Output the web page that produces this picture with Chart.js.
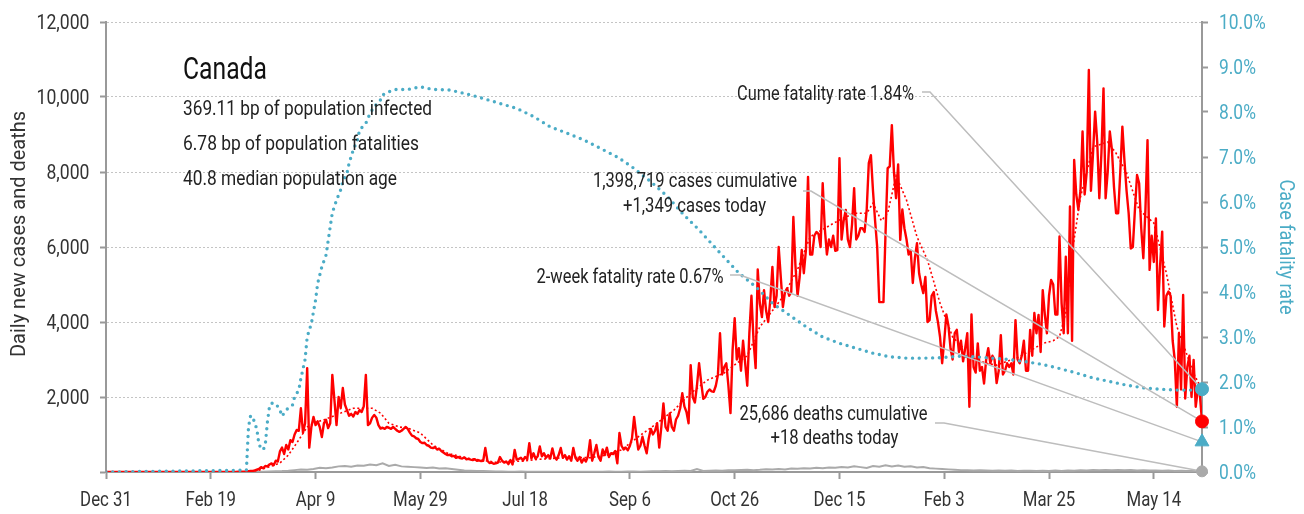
<!DOCTYPE html>
<html><head><meta charset="utf-8">
<script src="https://cdn.jsdelivr.net/npm/chart.js@4.4.1/dist/chart.umd.min.js"></script>
<style>html,body{margin:0;padding:0;background:#fff;overflow:hidden}canvas{display:block}</style>
</head><body>
<canvas id="c" width="1304" height="514"></canvas>
<script>
// ---------------- DATA ----------------
const country = "Canada";
const summaryLines = ["369.11 bp of population infected", "6.78 bp of population fatalities", "40.8 median population age"];
const xTickLabels = ["Dec 31","Feb 19","Apr 9","May 29","Jul 18","Sep 6","Oct 26","Dec 15","Feb 3","Mar 25","May 14"];
const xTickStep = 50; // days between labelled ticks
const leftTickLabels = ["", "2,000", "4,000", "6,000", "8,000", "10,000", "12,000"];
const rightTickLabels = ["0.0%","1.0%","2.0%","3.0%","4.0%","5.0%","6.0%","7.0%","8.0%","9.0%","10.0%"];
const leftTitle = "Daily new cases and deaths";
const rightTitle = "Case fatality rate";

// daily new cases, day 0 = Dec 31 2019
const dailyCases = [
0,0,0,0,0,0,0,0,0,0,
0,0,0,0,0,0,0,0,0,0,
0,0,0,0,0,1,0,1,0,0,
1,0,0,0,0,0,1,0,0,0,
0,0,0,0,0,0,0,0,0,0,
0,1,2,1,0,1,1,2,2,1,
0,2,3,5,5,8,10,15,20,25,
30,40,60,80,130,100,160,150,200,230,
180,300,280,550,650,480,720,600,850,800,
1000,1120,1100,1700,1050,1300,2770,650,1200,1470,
1250,1350,1200,930,1300,1390,1170,1300,2590,1920,
1250,2000,1700,2240,1800,1650,1500,1550,1480,1600,
1550,1650,1600,1750,2590,1250,1300,1450,1520,1450,
1250,1160,1180,1150,1200,1180,1150,1200,1150,1100,
1070,1100,1150,1200,1150,1050,970,950,900,880,
800,770,780,720,700,650,640,660,600,620,
560,520,480,450,460,420,430,380,400,370,
360,390,340,350,330,320,340,300,310,290,
300,640,300,240,250,220,230,250,400,300,
250,280,210,320,200,590,330,350,380,310,
400,340,770,360,500,350,420,680,420,500,
380,450,360,630,400,330,450,640,380,450,
330,420,300,640,380,300,400,250,350,280,
420,850,300,500,720,400,300,600,450,650,
400,500,480,560,230,1040,700,600,650,580,
700,900,1470,1000,600,700,940,700,500,900,
1150,1000,1100,1300,650,1200,1830,1200,1100,1560,
1200,1100,1400,1500,1700,2100,1750,1600,1300,2850,
2000,1850,2300,2900,2400,1950,2000,2140,2200,2150,
2140,2300,2590,3700,2600,2800,2900,2300,1570,3250,
4100,3000,3300,2700,3500,2900,2300,3700,4700,3500,
2770,5400,4500,4130,4850,4300,4000,4600,5470,4400,
4700,6000,5200,4400,4800,4900,4700,4800,6800,5500,
4700,5200,5920,5300,5920,7870,5800,5800,6300,6400,
6350,6000,7700,6500,5800,6200,6000,6300,5900,5920,
8370,6200,6700,6990,6200,6000,6600,7570,6200,6300,
6500,6500,6400,7000,8240,8450,7500,6700,6000,4530,
4530,4530,6400,8100,8150,9250,8000,7300,8200,6190,
7000,6500,6200,5800,5900,5040,5700,6100,5300,5000,
4770,5200,4000,4050,4700,4800,4300,4000,3600,2900,
3500,4200,3900,3300,3000,3700,3790,3200,3500,2950,
3300,3700,1740,4200,2800,2650,3430,2700,2800,2360,
3000,3300,2900,3100,3000,2370,2700,3650,2600,2700,
2900,2800,2900,2600,4050,3000,2900,3100,3500,2700,
2700,3790,3100,4240,3700,4190,3200,4850,4200,3700,
4700,5120,5000,4200,4200,6280,4500,3700,5740,3700,
7080,3500,8320,7400,7000,7500,9080,7400,8000,10720,
7500,8500,9610,8800,7300,8500,10230,7300,8000,9080,
8600,7600,6900,6900,8000,9210,8300,7500,6900,5960,
6000,7000,7920,7700,6500,5700,7000,8850,5390,6300,
5600,6760,4320,5500,6410,3880,4700,4810,4700,3500,
2990,1740,3700,2200,4720,1960,2800,3100,2000,2990,
1740,2200,2050,1349
];

// 7-day average of new cases: [day, value]
const avgCases = [
[0,0],[66,5],[73,50],[78,140],[83,240],[87,450],[91,770],[96,1200],[100,1330],[104,1390],
[108,1480],[112,1570],[118,1700],[123,1700],[127,1700],[131,1570],[135,1300],[140,1200],[144,1170],[150,1040],
[156,720],[163,500],[172,370],[179,320],[186,260],[192,280],[199,290],[207,340],[215,370],[223,390],
[231,380],[239,450],[246,590],[254,940],[263,1300],[271,1650],[279,2100],[287,2450],[295,2640],[301,2900],
[306,3100],[312,3870],[318,4300],[323,4670],[330,5400],[336,6270],[343,6500],[350,6720],[357,6900],[363,6900],
[366,7170],[370,6700],[373,6900],[377,7900],[382,7250],[387,6270],[392,5650],[398,4500],[404,3600],[410,3250],
[415,3000],[420,2900],[425,2850],[430,2950],[435,3050],[440,3200],[447,3430],[452,3500],[455,3610],[458,4240],
[461,5840],[465,7330],[471,8670],[478,8800],[482,8500],[487,7970],[493,6990],[500,6640],[506,5300],[511,3880],
[519,2630],[523,2190]
];

// daily deaths: [day, value]
const dailyDeaths = [
[0,0],[69,0],[72,5],[75,10],[78,15],[81,20],[84,25],[87,35],[90,50],[93,65],[96,60],[99,80],
[102,110],[105,100],[108,120],[111,150],[114,160],[117,140],[120,170],[123,165],[126,200],[129,180],
[132,230],[135,160],[138,190],[141,150],[144,140],[147,130],[150,120],[153,110],[156,120],[159,95],
[162,100],[165,80],[168,60],[171,40],[174,35],[177,30],[180,25],[183,20],[186,15],[189,12],
[192,10],[195,8],[198,10],[201,6],[204,8],[207,7],[210,5],[213,6],[216,8],[219,5],
[222,7],[225,5],[228,6],[231,7],[234,6],[237,8],[240,10],[243,8],[246,9],[249,12],
[252,15],[255,10],[258,15],[261,18],[264,20],[267,25],[270,22],[273,28],[276,30],[279,25],
[282,80],[285,30],[288,35],[291,40],[294,35],[297,45],[300,50],[303,55],[306,60],[309,50],
[312,60],[315,75],[318,70],[321,80],[324,70],[327,90],[330,85],[333,100],[336,95],[339,110],
[342,100],[345,120],[348,115],[351,130],[354,120],[357,150],[360,130],[363,110],[366,160],[369,140],
[372,180],[375,150],[378,170],[381,140],[384,150],[387,120],[390,130],[393,100],[396,90],[399,80],
[402,70],[405,60],[408,50],[411,45],[414,40],[417,45],[420,40],[423,35],[426,38],[429,35],
[432,40],[435,30],[438,35],[441,32],[444,30],[447,35],[450,30],[453,38],[456,30],[459,40],
[462,35],[465,45],[468,40],[471,50],[474,45],[477,55],[480,48],[483,50],[486,45],[489,50],
[492,40],[495,45],[498,38],[501,40],[504,35],[507,38],[510,30],[513,32],[516,25],[519,28],[523,18]
];

// cumulative case fatality rate (%): [day, value]
const caseFatalityRate = [
[0,0],[67,0.04],[68,1.0],[69,1.25],[70,1.22],[72,0.95],[73,0.6],[75,0.49],[76,0.6],[77,1.1],
[78,1.45],[79,1.53],[81,1.52],[83,1.38],[84,1.24],[86,1.38],[89,1.49],[90,1.67],[92,1.82],[93,2.08],
[95,2.5],[96,3.0],[98,3.3],[100,3.82],[101,4.19],[103,4.56],[105,4.82],[107,5.45],[108,5.76],[110,6.04],
[112,6.27],[113,6.46],[115,6.64],[116,6.86],[118,7.16],[120,7.38],[121,7.6],[124,7.75],[126,7.97],[128,8.12],
[131,8.27],[132,8.38],[135,8.45],[138,8.5],[144,8.5],[150,8.56],[156,8.5],[164,8.49],[174,8.38],[180,8.3],
[188,8.19],[196,8.08],[204,7.9],[212,7.67],[220,7.53],[228,7.38],[236,7.19],[244,7.0],[251,6.78],[260,6.45],
[268,6.12],[275,5.75],[283,5.38],[291,4.97],[296,4.72],[302,4.42],[310,4.12],[318,3.75],[326,3.49],[334,3.23],
[342,3.0],[350,2.86],[358,2.75],[366,2.64],[374,2.56],[382,2.53],[390,2.53],[398,2.54],[407,2.57],[415,2.56],
[423,2.53],[431,2.5],[439,2.45],[447,2.39],[455,2.3],[463,2.2],[471,2.09],[479,2.01],[487,1.93],[495,1.87],
[503,1.84],[511,1.82],[519,1.82],[523,1.84]
];

// latest figures
const cumulativeCases = "1,398,719";
const latestCases = 1349;
const cumulativeDeaths = "25,686";
const latestDeaths = 18;
const cumeFatalityRate = 1.84;
const twoWeekFatalityRate = 0.67;

// ---------------- CHART ----------------
const FONT = 'Roboto, "DejaVu Sans", sans-serif';
const BLUE = '#4bacc6', RED = '#ff0000', GREY = '#aaaaaa', AXIS = '#999999', TXT = '#333333';
Chart.defaults.font.family = FONT;
Chart.defaults.color = TXT;

const lastDay = dailyCases.length - 1;
const pts = arr => arr.map(([d, v]) => ({x: d, y: v}));

// condensed text helper: horizontal squeeze either fixed (sx) or to a target width
function txt(ctx, s, x, y, o) {
  ctx.save();
  ctx.font = (o.size || 20) + 'px ' + FONT;
  ctx.fillStyle = o.color || '#222';
  ctx.textBaseline = 'alphabetic';
  ctx.textAlign = 'left';
  const w = ctx.measureText(s).width;
  const k = o.width ? o.width / w : (o.sx || 1);
  const dw = w * k;
  const align = o.align || 'left';
  if (o.rotate) {
    ctx.translate(x, y);
    ctx.rotate(o.rotate);
    ctx.scale(k, 1);
    ctx.fillText(s, -w / 2, (o.size || 20) * 0.36);
  } else {
    const left = align === 'left' ? x : align === 'right' ? x - dw : x - dw / 2;
    ctx.translate(left, y);
    ctx.scale(k, 1);
    ctx.fillText(s, 0, 0);
  }
  ctx.restore();
}

let leadersDone = false;
function drawLeaders(chart) {
  const {ctx, scales: {x, y, y2}} = chart;
  const ex = x.getPixelForValue(lastDay);
  const L = [
    [922, 92, 930, y2.getPixelForValue(cumeFatalityRate)],
    [803, 191, 811, y.getPixelForValue(latestCases)],
    [730, 275, 740, y2.getPixelForValue(twoWeekFatalityRate)],
    [935, 423, 944, y.getPixelForValue(latestDeaths)]
  ];
  ctx.save();
  ctx.strokeStyle = '#bdbdbd'; ctx.lineWidth = 1.5;
  for (const [x0, y0, x1, yt] of L) {
    ctx.beginPath(); ctx.moveTo(x0, y0); ctx.lineTo(x1, y0); ctx.lineTo(ex, yt); ctx.stroke();
  }
  ctx.restore();
}

const TICK_SX = 0.84, TICK_SIZE = 20;
const annotations = {
  id: 'annotations',
  beforeDraw() { leadersDone = false; },
  beforeDatasetDraw(chart, args) {
    if (!leadersDone && chart.data.datasets[args.index].isMarker) { drawLeaders(chart); leadersDone = true; }
  },
  afterDraw(chart) {
    const ctx = chart.ctx;
    const {x, y, y2} = chart.scales;
    // axis tick labels
    x.ticks.forEach(t => {
      const lab = xTickLabels[Math.round(t.value / xTickStep)];
      if (lab) txt(ctx, lab, x.getPixelForValue(t.value), 506, {size: TICK_SIZE, sx: TICK_SX, align: 'center', color: TXT});
    });
    y.ticks.forEach(t => {
      const lab = leftTickLabels[Math.round(t.value / 2000)];
      if (lab) txt(ctx, lab, 89.5, y.getPixelForValue(t.value) + 7, {size: TICK_SIZE, sx: 0.88, align: 'right', color: TXT});
    });
    y2.ticks.forEach(t => {
      const lab = rightTickLabels[Math.round(t.value)];
      if (lab) txt(ctx, lab, 1219, y2.getPixelForValue(t.value) + 7, {size: TICK_SIZE, sx: 0.87, align: 'left', color: BLUE});
    });
    // axis titles
    txt(ctx, leftTitle, 18, 234, {size: 20, width: 246, rotate: -Math.PI / 2, color: TXT});
    txt(ctx, rightTitle, 1287, 247, {size: 20, width: 135, rotate: Math.PI / 2, color: BLUE});
    // headline block
    txt(ctx, country, 183, 78.5, {size: 31, width: 84, color: '#111'});
    txt(ctx, summaryLines[0], 183, 115, {size: 21, width: 249});
    txt(ctx, summaryLines[1], 183, 150, {size: 21, width: 236});
    txt(ctx, summaryLines[2], 183, 185, {size: 21, width: 214});
    // callouts
    txt(ctx, 'Cume fatality rate ' + cumeFatalityRate.toFixed(2) + '%', 914, 99.5, {size: 20, width: 177, align: 'right'});
    txt(ctx, cumulativeCases + ' cases cumulative', 695, 186.5, {size: 20, width: 204, align: 'center'});
    txt(ctx, '+' + latestCases.toLocaleString('en-US') + ' cases today', 694.5, 211.5, {size: 20, width: 143, align: 'center'});
    txt(ctx, '2-week fatality rate ' + twoWeekFatalityRate.toFixed(2) + '%', 723.5, 283, {size: 20, width: 187, align: 'right'});
    txt(ctx, cumulativeDeaths + ' deaths cumulative', 833.5, 420, {size: 20, width: 188, align: 'center'});
    txt(ctx, '+' + latestDeaths + ' deaths today', 834.5, 444, {size: 20, width: 128, align: 'center'});
  }
};

new Chart(document.getElementById('c'), {
  type: 'line',
  data: {
    datasets: [
      {label: 'Cume CFR', isMarker: true, data: [{x: lastDay, y: cumeFatalityRate}], yAxisID: 'y2', showLine: false,
       pointStyle: 'circle', pointRadius: 6.5, backgroundColor: BLUE, borderColor: BLUE, clip: false, order: 0},
      {label: 'Cases today', isMarker: true, data: [{x: lastDay, y: latestCases}], yAxisID: 'y', showLine: false,
       pointStyle: 'circle', pointRadius: 6.5, backgroundColor: RED, borderColor: RED, clip: false, order: 0},
      {label: '2wk CFR', isMarker: true, data: [{x: lastDay, y: twoWeekFatalityRate}], yAxisID: 'y2', showLine: false,
       pointStyle: 'triangle', pointRadius: 8, backgroundColor: BLUE, borderColor: BLUE, clip: false, order: 0},
      {label: 'Deaths today', isMarker: true, data: [{x: lastDay, y: latestDeaths}], yAxisID: 'y', showLine: false,
       pointStyle: 'circle', pointRadius: 5.5, backgroundColor: GREY, borderColor: GREY, clip: false, order: 0},
      {label: 'Case fatality rate', data: pts(caseFatalityRate), yAxisID: 'y2', borderColor: BLUE, borderWidth: 3.4,
       borderDash: [0, 6.7], borderCapStyle: 'round', pointRadius: 0, tension: 0, order: 1},
      {label: '7-day average', data: pts(avgCases), yAxisID: 'y', borderColor: RED, borderWidth: 1.6,
       borderDash: [2, 2.5], pointRadius: 0, tension: 0, order: 2},
      {label: 'New cases', data: dailyCases.map((v, i) => ({x: i, y: v})), yAxisID: 'y', borderColor: RED, borderWidth: 2.4,
       borderJoinStyle: 'round', pointRadius: 0, tension: 0, order: 3},
      {label: 'New deaths', data: pts(dailyDeaths), yAxisID: 'y', borderColor: GREY, borderWidth: 2,
       pointRadius: 0, tension: 0, order: 4}
    ]
  },
  options: {
    responsive: false,
    animation: false,
    events: [],
    layout: {padding: {top: 22, left: 0, right: 0, bottom: 0}},
    plugins: {legend: {display: false}, tooltip: {enabled: false}},
    scales: {
      x: {
        type: 'linear', min: 0, max: lastDay,
        afterFit: s => { s.height = 42; },
        ticks: {stepSize: xTickStep, includeBounds: false, autoSkip: false, display: false},
        grid: {drawOnChartArea: false, drawTicks: true, tickLength: 7, tickColor: AXIS, tickWidth: 2},
        border: {color: AXIS, width: 2}
      },
      y: {
        position: 'left', min: 0, max: 12000,
        afterFit: s => { s.width = 106; },
        ticks: {stepSize: 2000, display: false},
        grid: {color: '#c4c4c4', lineWidth: 1, tickLength: 6, tickColor: AXIS, tickWidth: 2, tickBorderDash: []},
        border: {color: AXIS, width: 2, dash: [2, 2]}
      },
      y2: {
        position: 'right', min: 0, max: 10,
        afterFit: s => { s.width = 102; },
        ticks: {stepSize: 1, display: false},
        grid: {drawOnChartArea: false, tickLength: 6, tickColor: AXIS, tickWidth: 2},
        border: {color: AXIS, width: 2}
      }
    }
  },
  plugins: [annotations]
});
</script>
</body></html>
